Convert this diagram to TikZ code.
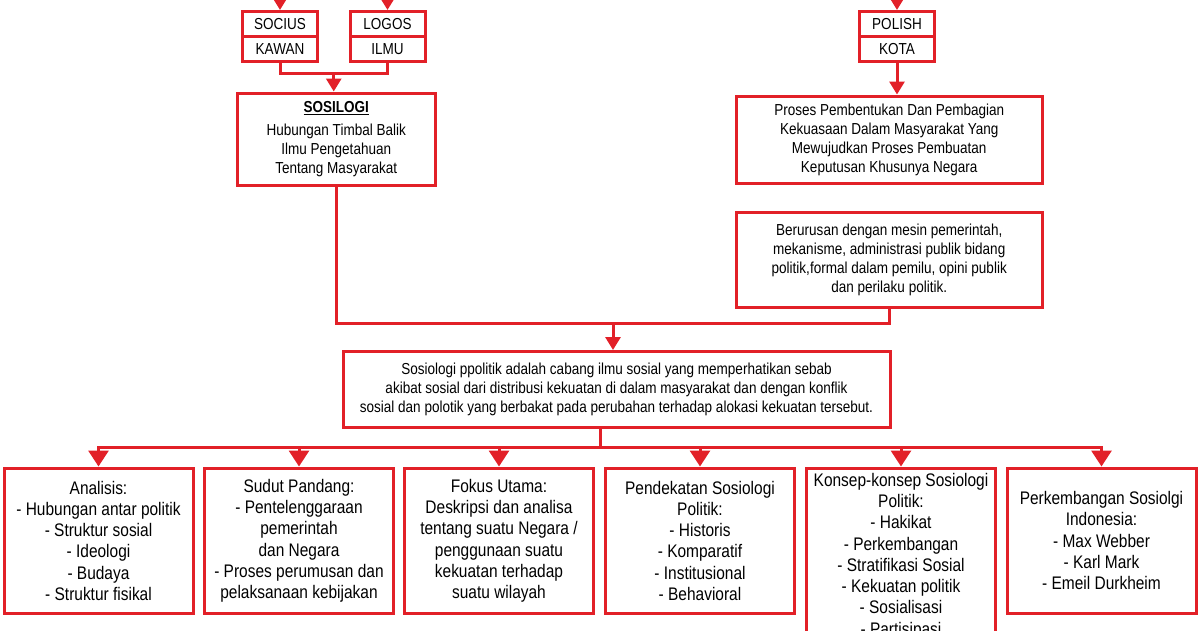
\documentclass[tikz,border=0pt]{standalone}
\usepackage{fontspec}
\setmainfont{Liberation Sans}[FakeStretch=0.85]
\usetikzlibrary{positioning, arrows.meta, calc}
\definecolor{linered}{RGB}{226,32,40}
\newcommand{\topfont}{\fontsize{15.9}{19}\selectfont}
\newcommand{\leaffont}{\fontsize{18.2}{21.3}\selectfont}

\begin{document}
\begin{tikzpicture}[
    x=1pt, y=-1pt,
    >={Triangle[width=15pt,length=13pt]}, % default arrow tip
    % Styles
    word/.style={ % small word boxes at the top
        rectangle,
        draw=linered,
        line width=3pt,
        minimum width=75pt,
        minimum height=25pt,
        inner sep=0pt,
        font=\topfont
    },
    note/.style={ % text boxes in the upper part
        rectangle,
        draw=linered,
        line width=3pt,
        align=center,
        inner sep=2pt,
        font=\topfont
    },
    leaf/.style={ % boxes in the bottom row
        rectangle,
        draw=linered,
        line width=3pt,
        align=center,
        minimum width=189pt,
        minimum height=145.5pt,
        inner sep=2pt,
        font=\leaffont
    },
    link/.style={
        draw=linered,
        line width=3pt,
        line cap=rect
    },
    arrow/.style={
        ->,
        draw=linered,
        line width=3pt
    },
    bigarrow/.style={
        -{Triangle[width=20pt,length=16pt]},
        draw=linered,
        line width=3pt
    }
]
    \useasboundingbox (0,0) rectangle (1200,630);

    % Word pairs
    \node[word] (socius) at (280,24) {SOCIUS};
    \node[word, below=-3pt of socius] (kawan) {KAWAN};
    \node[word, right=29.5pt of socius] (logos) {LOGOS};
    \node[word, below=-3pt of logos] (ilmu) {ILMU};
    \node[word] (polish) at (897,24) {POLISH};
    \node[word, below=-3pt of polish] (kota) {KOTA};

    % Arrows coming in from above
    \foreach \W in {socius, logos, polish} {
        \draw[arrow, <-] (\W.north) -- ++ (0,-20);
    }

    % Meaning of the words
    \node[note, minimum width=197.5pt, minimum height=92.5pt] (sosiologi) at (336.25,139.25)
        {\textbf{\underline{SOSILOGI}}\\[4pt]
         Hubungan Timbal Balik\\ Ilmu Pengetahuan\\ Tentang Masyarakat};
    \node[note, minimum width=305.5pt, minimum height=87pt] (proses) at (889.25,139.5)
        {Proses Pembentukan Dan Pembagian\\ Kekuasaan Dalam Masyarakat Yang\\
         Mewujudkan Proses Pembuatan\\ Keputusan Khusunya Negara};
    \node[note, minimum width=305.5pt, minimum height=94.5pt, below=26.5pt of proses] (berurusan)
        {Berurusan dengan mesin pemerintah,\\ mekanisme, administrasi publik bidang\\
         politik,formal dalam pemilu, opini publik\\ dan perilaku politik.};

    % Joining SOCIUS and LOGOS
    \coordinate (jS) at ($(kawan.south)!0.5!(ilmu.south) + (0,10)$);
    \draw[link] (kawan.south) |- (jS) -| (ilmu.south);
    \draw[arrow] (jS) -- (jS |- sosiologi.north);
    \draw[arrow] (kota.south) -- (kota.south |- proses.north);

    % Definition of political sociology
    \node[note, minimum width=547pt, minimum height=75.5pt] (sospol) at (616.5,389.25)
        {Sosiologi ppolitik adalah cabang ilmu sosial yang memperhatikan sebab\\
         akibat sosial dari distribusi kekuatan di dalam masyarakat dan dengan konflik\\
         sosial dan polotik yang berbakat pada perubahan terhadap alokasi kekuatan tersebut.};

    \coordinate (jM) at (613,323);
    \draw[link] (sosiologi.south) |- (jM) -| (berurusan.south);
    \draw[arrow] (jM) -- (jM |- sospol.north);

    % Bottom row
    \node[leaf] (box1) at (98.5,540.75)
        {Analisis:\\ - Hubungan antar politik\\ - Struktur sosial\\ - Ideologi\\ - Budaya\\ - Struktur fisikal};
    \node[leaf] (box2) at (299,540.75)
        {Sudut Pandang:\\ - Pentelenggaraan\\ pemerintah\\ dan Negara\\ - Proses perumusan dan\\ pelaksanaan kebijakan};
    \node[leaf] (box3) at (499,540.75)
        {Fokus Utama:\\ Deskripsi dan analisa\\ tentang suatu Negara /\\ penggunaan suatu\\ kekuatan terhadap\\ suatu wilayah};
    \node[leaf] (box4) at (700,540.75)
        {Pendekatan Sosiologi\\ Politik:\\ - Historis\\ - Komparatif\\ - Institusional\\ - Behavioral};
    \node[leaf, minimum height=0pt, inner ysep=5pt, anchor=north] (box5) at (901,466.5)
        {Konsep-konsep Sosiologi\\ Politik:\\ - Hakikat\\ - Perkembangan\\ - Stratifikasi Sosial\\
         - Kekuatan politik\\ - Sosialisasi\\ - Partisipasi};
    \node[leaf] (box6) at (1101.5,540.75)
        {Perkembangan Sosiolgi\\ Indonesia:\\ - Max Webber\\ - Karl Mark\\ - Emeil Durkheim};

    % Branching to the bottom row
    \coordinate (jB) at (600,447);
    \draw[link] (jB |- sospol.south) -- (jB);
    \draw[link] (box1.north |- jB) -- (box6.north |- jB);
    \foreach \X in {1, ..., 6} {
        \draw[bigarrow] (box\X.north |- jB) -- (box\X.north);
    }

\end{tikzpicture}
\end{document}
